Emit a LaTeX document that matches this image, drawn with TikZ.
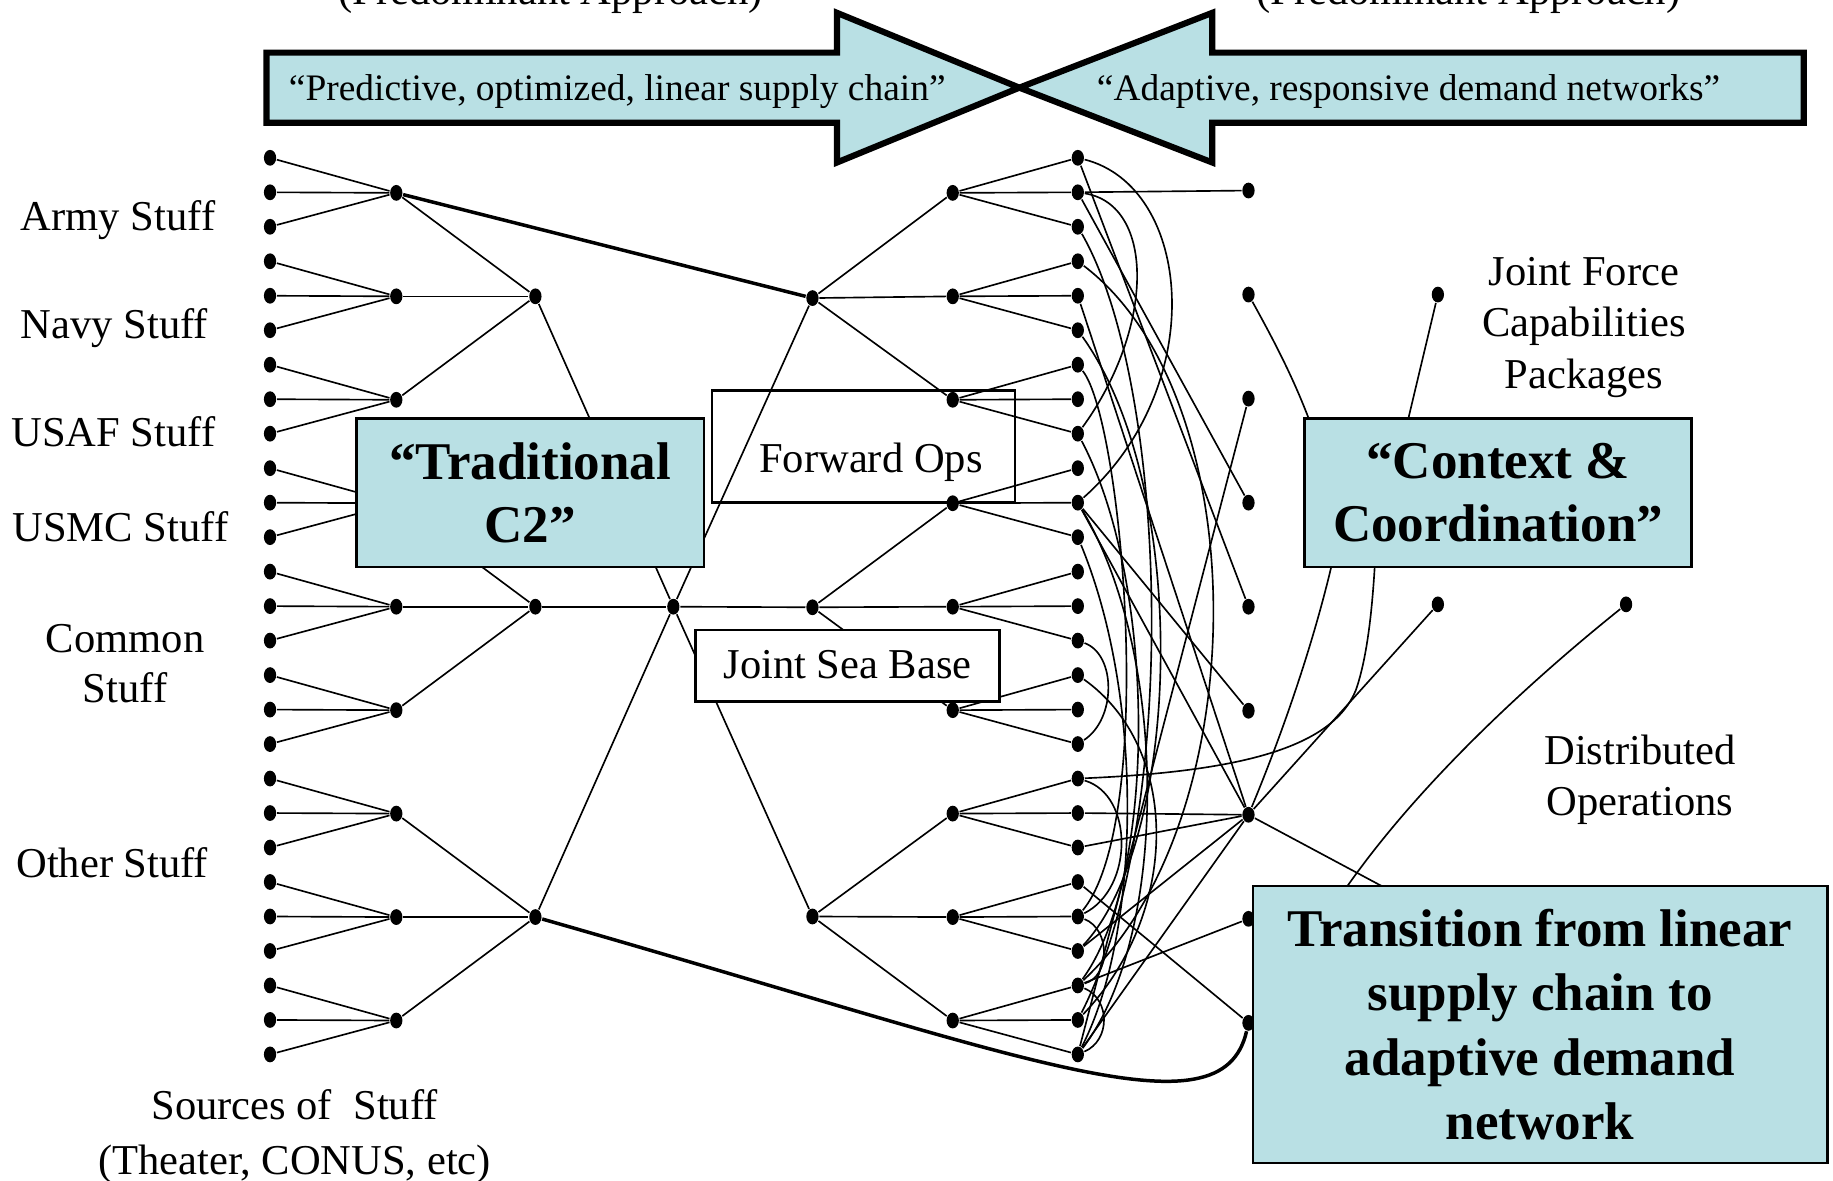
\documentclass[tikz,border=0pt]{standalone}
\usepackage{fontspec}
\setmainfont{Liberation Serif}
\usetikzlibrary{shapes.geometric}
\definecolor{paleteal}{RGB}{185,224,228}
\newcommand\setfs[2]{\fontsize{#1}{#2}\selectfont}
\begin{document}
\begin{tikzpicture}[x=0.01cm, y=-0.01cm,
  dot/.style={ellipse, fill=black, inner sep=0pt, minimum width=0.105cm, minimum height=0.135cm},
  link/.style={line width=0.4pt},
  heavy/.style={line width=0.85pt},
  stufflabel/.style={font=\setfs{10.35}{12.4}, inner sep=0pt},
  bluebox/.style={draw, line width=0.6pt, fill=paleteal, align=center, font=\bfseries\setfs{12.9}{15.2}},
  whitebox/.style={draw, line width=0.6pt, fill=white},
  bigarrow/.style={draw, line width=1.5pt, fill=paleteal, line join=miter}]
\useasboundingbox (0,0) rectangle (1568,1010);

% ---- the two opposing approach arrows ----
\draw[bigarrow] (228,45) -- (716,45) -- (716,11) -- (872,75) -- (716,139) -- (716,105) -- (228,105) -- cycle;
\draw[bigarrow] (1543,45) -- (1037,45) -- (1037,11) -- (872,75) -- (1037,139) -- (1037,105) -- (1543,105) -- cycle;
\node[font=\setfs{9.1}{11}] (predict) at (528,78) {“Predictive, optimized, linear supply chain”};
\node[font=\setfs{9.1}{11}] (adapt) at (1205,78) {“Adaptive, responsive demand networks”};
\node[stufflabel, anchor=base] (predl) at (471,4) {(Predominant Approach)};
\node[stufflabel, anchor=base] (predr) at (1256,4) {(Predominant Approach)};

% ---- dots: sources, hubs, demand points ----
\foreach \i in {0,...,26} {
  \node[dot] (a\i) at (231,{135+29.5*\i}) {};
  \node[dot] (g\i) at (922,{135+29.5*\i}) {};
}
\foreach \j in {0,...,8} {
  \node[dot] (b\j) at (339,{165+88.5*\j}) {};
  \node[dot] (f\j) at (815,{165+88.5*\j}) {};
  \node[dot] (h\j) at (1068,{163+89*\j}) {};
}
\foreach \k in {0,1,2} {
  \node[dot] (c\k) at (458,{253.5+265.5*\k}) {};
  \node[dot] (e\k) at (695,{255+264.5*\k}) {};
}
\node[dot] (d) at (576,519) {};
\node[dot] (i0) at (1230,252) {};
\node[dot] (i1) at (1230,517) {};
\node[dot] (j0) at (1391,517) {};

% ---- linear supply chain tree ----
\foreach \j in {0,...,8} {
  \foreach \k in {0,1,2} {
    \pgfmathtruncatemacro\n{3*\j+\k}
    \draw[link] (a\n) -- (b\j);
    \draw[link] (g\n) -- (f\j);
  }
}
\foreach \k in {0,1,2} {
  \foreach \m in {0,1,2} {
    \pgfmathtruncatemacro\n{3*\k+\m}
    \draw[link] (b\n) -- (c\k);
    \draw[link] (f\n) -- (e\k);
  }
  \draw[link] (c\k) -- (d);
  \draw[link] (d) -- (e\k);
}
\draw[heavy] (b0) -- (e0);
\draw[heavy] (c2) .. controls (880,905) and (1045,975) .. (h8);

% ---- adaptive demand network ----
\draw[link] (g1) -- (h0);
\draw[link] (g1) -- (h3);
\draw[link] (g0) -- (h4);
\draw[link] (h2) -- (g26);
\draw[link] (g10) -- (h5);
\draw[link] (g10) -- (h6);
\draw[link] (g4) -- (h6);
\draw[link] (g19) -- (h6);
\draw[link] (g20) -- (h6);
\draw[link] (g23) -- (h6);
\draw[link] (g26) -- (h6);
\draw[link] (g24) -- (h7);
\draw[link] (g21) -- (h8);
\draw[link] (i1) -- (h6);

\draw[link] (g0) .. controls (1020,160) and (1035,330) .. (g10);
\draw[link] (g1) .. controls (988,175) and (988,280) .. (g8);
\draw[link] (g14) .. controls (955,560) and (955,615) .. (g17);
\draw[link] (g18) .. controls (970,680) and (970,760) .. (g22);
\draw[link] (g22) .. controls (950,795) and (950,835) .. (g24);
\draw[link] (g24) .. controls (950,855) and (950,890) .. (g26);
\draw[link] (g2) .. controls (1000,330) and (1010,700) .. (g25);
\draw[link] (g3) .. controls (1075,340) and (1075,700) .. (g24);
\draw[link] (g5) .. controls (1020,420) and (1010,720) .. (g23);
\draw[link] (g6) .. controls (960,360) and (990,700) .. (g22);
\draw[link] (g8) .. controls (990,500) and (990,750) .. (g24);
\draw[link] (g10) .. controls (1000,560) and (1000,800) .. (g26);
\draw[link] (g11) .. controls (980,600) and (975,800) .. (g26);
\draw[link] (g15) .. controls (1010,640) and (1010,780) .. (g25);

% links running into the two labelled boxes
\coordinate (ctxA) at (1140,420);
\coordinate (ctxB) at (1190,420);
\coordinate (ctxC) at (1150,430);
\coordinate (ctxD) at (1178,440);
\coordinate (trA) at (1240,789);
\coordinate (trB) at (1120,810);
\draw[link] (h1) .. controls (1100,310) and (1120,350) .. (ctxA);
\draw[link] (i0) -- (ctxB);
\draw[link] (h6) .. controls (1100,620) and (1135,520) .. (ctxC);
\draw[link] (g18) .. controls (1060,660) and (1140,640) .. (1160,590) .. controls (1172,555) and (1176,500) .. (ctxD);
\draw[link] (h6) -- (trA);
\draw[link] (j0) .. controls (1300,590) and (1180,700) .. (trB);

% ---- boxes ----
\node[bluebox, minimum width=2.97cm, minimum height=1.27cm] (tradc2) at (453.5,421.5) {“Traditional\\C2”};
\node[bluebox, minimum width=3.31cm, minimum height=1.27cm] (ctx) at (1281.5,421.5) {“Context \&\\Coordination”};
\node[bluebox, minimum width=4.91cm, minimum height=2.37cm, font=\bfseries\setfs{12.9}{15.6}] (trans) at (1317.5,876.5) {Transition from linear\\supply chain to\\adaptive demand\\network};
\node[draw, line width=0.6pt, minimum width=2.59cm, minimum height=0.96cm] (fwd) at (738.5,382) {};
\node[stufflabel, anchor=base] (fwdtext) at (745,404) {Forward Ops};
\node[whitebox, minimum width=2.60cm, minimum height=0.61cm, font=\setfs{10.35}{12.4}, text depth=0.5pt] (jsb) at (725,569.5) {Joint Sea Base};

% ---- side labels ----
\node[stufflabel, anchor=base] (army) at (101,197) {Army Stuff};
\node[stufflabel, anchor=base] (navy) at (98,290) {Navy Stuff};
\node[stufflabel, anchor=base] (usaf) at (97,382) {USAF Stuff};
\node[stufflabel, anchor=base] (usmc) at (103,463) {USMC Stuff};
\node[stufflabel, align=center, font=\setfs{10.35}{12.2}] (common) at (107,568) {Common\\Stuff};
\node[stufflabel, anchor=base] (other) at (96,751) {Other Stuff};
\node[stufflabel, align=center, font=\setfs{10.35}{13.4}] (sources) at (252,972) {Sources of\ \ Stuff\\(Theater, CONUS, etc)};
\node[stufflabel, align=center, font=\setfs{10.35}{12.5}] (jfcp) at (1355,280) {Joint Force\\Capabilities\\Packages};
\node[stufflabel, align=center, font=\setfs{10.35}{12.5}] (distops) at (1403,667) {Distributed\\Operations};
\end{tikzpicture}
\end{document}
